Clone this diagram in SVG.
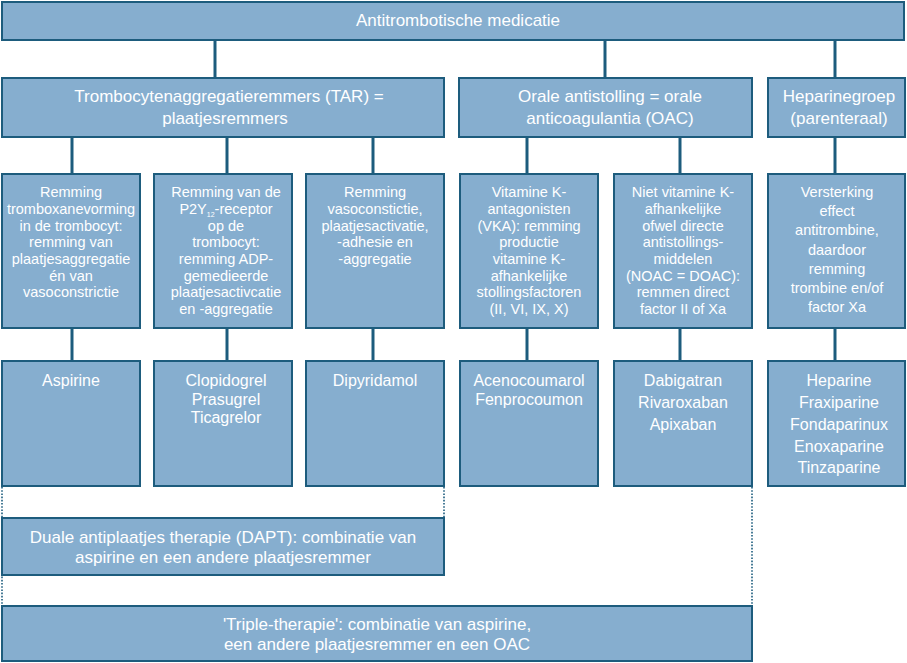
<svg xmlns="http://www.w3.org/2000/svg" width="907" height="663" viewBox="0 0 907 663">
<style>
.box{fill:#86aecf;stroke:#1d5c7d;stroke-width:2}
.t{font-family:"Liberation Sans",Arial,sans-serif;fill:#ffffff;text-anchor:middle}
.l1{font-size:17px}
.l3{font-size:14.5px}
.l4{font-size:16px}
.conn line{stroke:#1d5c7d;stroke-width:3}
.conn line.dot{stroke-width:1.6;stroke-dasharray:1.6 1.6}
</style>
<rect width="907" height="663" fill="#ffffff"/>
<g class="conn" id="connectors">
<line x1="215" y1="40" x2="215" y2="77"/>
<line x1="605" y1="40" x2="605" y2="77"/>
<line x1="835" y1="40" x2="835" y2="77"/>
<line x1="72" y1="137" x2="72" y2="174"/>
<line x1="227" y1="137" x2="227" y2="174"/>
<line x1="373" y1="137" x2="373" y2="174"/>
<line x1="527" y1="137" x2="527" y2="174"/>
<line x1="680" y1="137" x2="680" y2="174"/>
<line x1="835" y1="137" x2="835" y2="174"/>
<line x1="72" y1="328" x2="72" y2="361"/>
<line x1="227" y1="328" x2="227" y2="361"/>
<line x1="373" y1="328" x2="373" y2="361"/>
<line x1="527" y1="328" x2="527" y2="361"/>
<line x1="680" y1="328" x2="680" y2="361"/>
<line x1="835" y1="328" x2="835" y2="361"/>
<line class="dot" x1="2" y1="487" x2="2" y2="606"/>
<line class="dot" x1="444" y1="487" x2="444" y2="518"/>
<line class="dot" x1="752" y1="487" x2="752" y2="606"/>
</g>
<g id="top"><rect class="box" x="2" y="2" width="902" height="38"/>
<text class="t l1" x="458" y="26">Antitrombotische medicatie</text></g>
<g id="tar"><rect class="box" x="2" y="78" width="442" height="59"/>
<text class="t l1" x="229" y="102">Trombocytenaggregatieremmers (TAR) =</text>
<text class="t l1" x="225" y="124">plaatjesremmers</text></g>
<g id="oac"><rect class="box" x="459" y="78" width="293" height="59"/>
<text class="t l1" x="610" y="102">Orale antistolling = orale</text>
<text class="t l1" x="610" y="124">anticoagulantia (OAC)</text></g>
<g id="hep"><rect class="box" x="768" y="78" width="137" height="59"/>
<text class="t l1" x="839" y="102">Heparinegroep</text>
<text class="t l1" x="839" y="124">(parenteraal)</text></g>

<g id="m1"><rect class="box" x="2" y="174" width="138" height="154"/>
<text class="t l3" x="71" y="197">Remming</text>
<text class="t l3" x="71" y="214">tromboxanevorming</text>
<text class="t l3" x="71" y="230.5">in de trombocyt:</text>
<text class="t l3" x="71" y="247">remming van</text>
<text class="t l3" x="71" y="264">plaatjesaggregatie</text>
<text class="t l3" x="71" y="280.5">én van</text>
<text class="t l3" x="71" y="297">vasoconstrictie</text></g>
<g id="m2"><rect class="box" x="154" y="174" width="138" height="154"/>
<text class="t l3" x="226" y="197">Remming van de</text>
<text class="t l3" x="226" y="214">P2Y<tspan font-size="7" dy="3">12</tspan><tspan dy="-3">-receptor</tspan></text>
<text class="t l3" x="226" y="230.5">op de</text>
<text class="t l3" x="226" y="247">trombocyt:</text>
<text class="t l3" x="226" y="264">remming ADP-</text>
<text class="t l3" x="226" y="280.5">gemedieerde</text>
<text class="t l3" x="226" y="297">plaatjesactivcatie</text>
<text class="t l3" x="226" y="314">en -aggregatie</text></g>
<g id="m3"><rect class="box" x="306" y="174" width="138" height="154"/>
<text class="t l3" x="375" y="197">Remming</text>
<text class="t l3" x="375" y="214">vasoconstictie,</text>
<text class="t l3" x="375" y="230.5">plaatjesactivatie,</text>
<text class="t l3" x="375" y="247">-adhesie en</text>
<text class="t l3" x="375" y="264">-aggregatie</text></g>
<g id="m4"><rect class="box" x="460" y="174" width="138" height="154"/>
<text class="t l3" x="529" y="197">Vitamine  K-</text>
<text class="t l3" x="529" y="214">antagonisten</text>
<text class="t l3" x="529" y="230.5">(VKA): remming</text>
<text class="t l3" x="529" y="247">productie</text>
<text class="t l3" x="529" y="264">vitamine K-</text>
<text class="t l3" x="529" y="280.5">afhankelijke</text>
<text class="t l3" x="529" y="297">stollingsfactoren</text>
<text class="t l3" x="529" y="314">(II, VI, IX, X)</text></g>
<g id="m5"><rect class="box" x="614" y="174" width="138" height="154"/>
<text class="t l3" x="683" y="197">Niet vitamine K-</text>
<text class="t l3" x="683" y="214">afhankelijke</text>
<text class="t l3" x="683" y="230.5">ofwel directe</text>
<text class="t l3" x="683" y="247">antistollings-</text>
<text class="t l3" x="683" y="264">middelen</text>
<text class="t l3" x="683" y="280.5">(NOAC = DOAC):</text>
<text class="t l3" x="683" y="297">remmen direct</text>
<text class="t l3" x="683" y="314">factor II of Xa</text></g>
<g id="m6"><rect class="box" x="768" y="174" width="137" height="154"/>
<text class="t l3" x="837" y="197">Versterking</text>
<text class="t l3" x="837" y="216">effect</text>
<text class="t l3" x="837" y="235">antitrombine,</text>
<text class="t l3" x="837" y="254.5">daardoor</text>
<text class="t l3" x="837" y="273.5">remming</text>
<text class="t l3" x="837" y="293">trombine en/of</text>
<text class="t l3" x="837" y="312">factor Xa</text></g>

<g id="d1"><rect class="box" x="2" y="361" width="138" height="125"/>
<text class="t l4" x="71" y="386">Aspirine</text></g>
<g id="d2"><rect class="box" x="154" y="361" width="138" height="125"/>
<text class="t l4" x="226" y="386">Clopidogrel</text>
<text class="t l4" x="226" y="404.5">Prasugrel</text>
<text class="t l4" x="226" y="423">Ticagrelor</text></g>
<g id="d3"><rect class="box" x="306" y="361" width="138" height="125"/>
<text class="t l4" x="375" y="386">Dipyridamol</text></g>
<g id="d4"><rect class="box" x="460" y="361" width="138" height="125"/>
<text class="t l4" x="529" y="386">Acenocoumarol</text>
<text class="t l4" x="529" y="404.5">Fenprocoumon</text></g>
<g id="d5"><rect class="box" x="614" y="361" width="138" height="125"/>
<text class="t l4" x="683" y="386">Dabigatran</text>
<text class="t l4" x="683" y="408">Rivaroxaban</text>
<text class="t l4" x="683" y="430">Apixaban</text></g>
<g id="d6"><rect class="box" x="768" y="361" width="137" height="125"/>
<text class="t l4" x="839" y="386">Heparine</text>
<text class="t l4" x="839" y="408">Fraxiparine</text>
<text class="t l4" x="839" y="430">Fondaparinux</text>
<text class="t l4" x="839" y="452">Enoxaparine</text>
<text class="t l4" x="839" y="473">Tinzaparine</text></g>

<g id="dapt"><rect class="box" x="2" y="518" width="442" height="57"/>
<text class="t l1" x="223" y="543">Duale antiplaatjes therapie (DAPT): combinatie van</text>
<text class="t l1" x="223" y="563">aspirine en een andere plaatjesremmer</text></g>
<g id="triple"><rect class="box" x="2" y="606" width="750" height="55"/>
<text class="t l1" x="377" y="630">'Triple-therapie': combinatie van aspirine,</text>
<text class="t l1" x="377" y="650">een andere plaatjesremmer en een OAC</text></g>
</svg>
